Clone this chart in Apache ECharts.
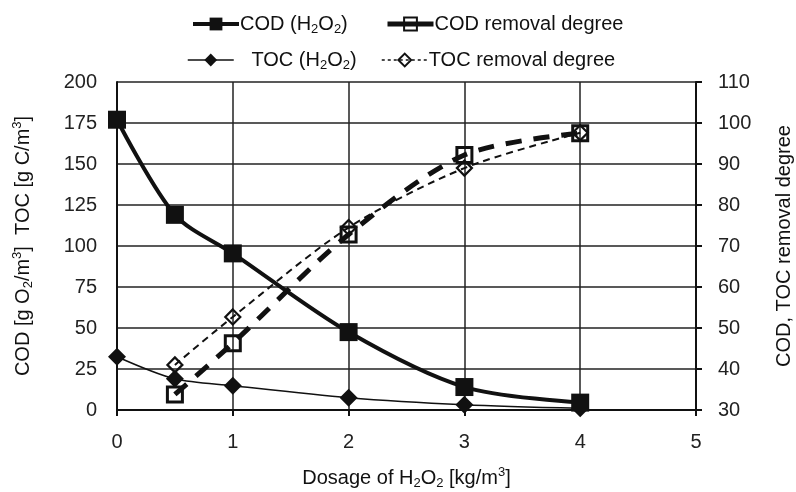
<!DOCTYPE html>
<html>
<head>
<meta charset="utf-8">
<script src="https://cdn.jsdelivr.net/npm/echarts@6/dist/echarts.min.js"></script>
<style>
  html, body { margin: 0; padding: 0; background: #fff; }
  #chart { width: 796px; height: 492px; }
</style>
</head>
<body>
<div id="chart"></div>
<script>
// dosage of H2O2 [kg/m3]
const dosage = [0, 0.5, 1, 2, 3, 4];
const dosageRemoval = [0.5, 1, 2, 3, 4];
// left axis
const codValues = [177, 119, 95.5, 47.5, 14, 4.5];
const tocValues = [32.5, 19, 14.8, 7.5, 3.2, 1];
// right axis (%)
const codRemoval = [33.8, 46.3, 72.8, 92.2, 97.5];
const tocRemoval = [41, 52.7, 74.5, 89, 97.6];

const leftTicks = { min: 0, max: 200, interval: 25 };
const rightTicks = { min: 30, max: 110, interval: 10 };

const pair = (xs, ys) => xs.map((x, i) => [x, ys[i]]);

const FONT = "Liberation Sans, Arial, sans-serif";
const rich = {
  a: { fontSize: 20, fontFamily: FONT, color: "#111" },
  s: { fontSize: 13, fontFamily: FONT, color: "#111", padding: [11, 0, 0, 0] },
  p: { fontSize: 13, fontFamily: FONT, color: "#111", padding: [0, 0, 11, 0] }
};

const legendNames = {
  "COD (H2O2)": "{a|COD (H}{s|2}{a|O}{s|2}{a|)}",
  "COD removal degree": "{a|COD removal degree}",
  "TOC (H2O2)": "{a|   TOC (H}{s|2}{a|O}{s|2}{a|)}",
  "TOC removal degree": "{a|TOC removal degree}"
};

const chart = echarts.init(document.getElementById("chart"));

// one legend box per item, so the spacing can follow the original
const legendItem = (name, left, top, lineStyle) => ({
  left: left,
  top: top,
  itemWidth: 46,
  itemHeight: 16,
  textStyle: { rich: rich, padding: [0, 0, 0, -4] },
  formatter: (n) => legendNames[n],
  data: [{ name: name, lineStyle: lineStyle }]
});

chart.setOption({
  backgroundColor: "#fff",
  animation: false,
  legend: [
    legendItem("COD (H2O2)", 186, 9, { width: 4, type: "solid" }),
    legendItem("COD removal degree", 380, 9, { width: 5, type: "solid" }),
    legendItem("TOC (H2O2)", 182, 45, { width: 1.5, type: "solid" }),
    legendItem("TOC removal degree", 376, 45, { width: 1.5, type: [3, 3] })
  ],
  grid: { left: 117, right: 100, top: 82, bottom: 82, outerBoundsMode: "none" },
  xAxis: {
    type: "value",
    min: 0,
    max: 5,
    interval: 1,
    name: "{a|Dosage of H}{s|2}{a|O}{s|2}{a| [kg/m}{p|3}{a|]}",
    nameLocation: "middle",
    nameGap: 56,
    nameTextStyle: { rich: rich },
    axisLine: { lineStyle: { color: "#111", width: 2 } },
    axisTick: { show: true, length: 6, lineStyle: { color: "#111", width: 2 } },
    axisLabel: { fontSize: 20, fontFamily: FONT, color: "#222", margin: 22 },
    splitLine: { show: true, lineStyle: { color: "#222", width: 1.5 } }
  },
  yAxis: [
    {
      type: "value",
      min: leftTicks.min,
      max: leftTicks.max,
      interval: leftTicks.interval,
      name: "{a|COD [g O}{s|2}{a|/m}{p|3}{a|]  TOC [g C/m}{p|3}{a|]}",
      nameLocation: "middle",
      nameRotate: 90,
      nameGap: 82,
      nameTextStyle: { rich: rich },
      axisLine: { show: true, lineStyle: { color: "#111", width: 2 } },
      axisTick: { show: false },
      axisLabel: { fontSize: 20, fontFamily: FONT, color: "#222", margin: 20 },
      splitLine: { show: true, lineStyle: { color: "#222", width: 1.5 } }
    },
    {
      type: "value",
      position: "right",
      min: rightTicks.min,
      max: rightTicks.max,
      interval: rightTicks.interval,
      name: "COD, TOC removal degree",
      nameLocation: "middle",
      nameRotate: 90,
      nameGap: 78,
      nameTextStyle: { fontSize: 20, fontFamily: FONT, color: "#111" },
      axisLine: { show: true, lineStyle: { color: "#111", width: 2 } },
      axisTick: { show: true, length: 6, lineStyle: { color: "#111", width: 2 } },
      axisLabel: { fontSize: 20, fontFamily: FONT, color: "#222", margin: 22 },
      splitLine: { show: false }
    }
  ],
  series: [
    {
      name: "COD (H2O2)",
      type: "line",
      yAxisIndex: 0,
      data: pair(dosage, codValues),
      smooth: 0.3,
      symbol: "rect",
      symbolSize: 18,
      lineStyle: { color: "#111", width: 4 },
      itemStyle: { color: "#111" },
      z: 5
    },
    {
      name: "COD removal degree",
      type: "line",
      yAxisIndex: 1,
      data: pair(dosageRemoval, codRemoval),
      smooth: 0.3,
      symbol: "rect",
      symbolSize: 15,
      lineStyle: { color: "#111", width: 5, type: [16, 12] },
      itemStyle: { color: "rgba(255,255,255,0)", borderColor: "#111", borderWidth: 3 },
      z: 4
    },
    {
      name: "TOC (H2O2)",
      type: "line",
      yAxisIndex: 0,
      data: pair(dosage, tocValues),
      smooth: 0.3,
      symbol: "diamond",
      symbolSize: 18,
      lineStyle: { color: "#111", width: 1.5 },
      itemStyle: { color: "#111" },
      z: 3
    },
    {
      name: "TOC removal degree",
      type: "line",
      yAxisIndex: 1,
      data: pair(dosageRemoval, tocRemoval),
      smooth: 0.3,
      symbol: "diamond",
      symbolSize: 15,
      lineStyle: { color: "#111", width: 2, type: [7, 5] },
      itemStyle: { color: "rgba(255,255,255,0)", borderColor: "#111", borderWidth: 2.2 },
      z: 3
    }
  ]
});
</script>
</body>
</html>
